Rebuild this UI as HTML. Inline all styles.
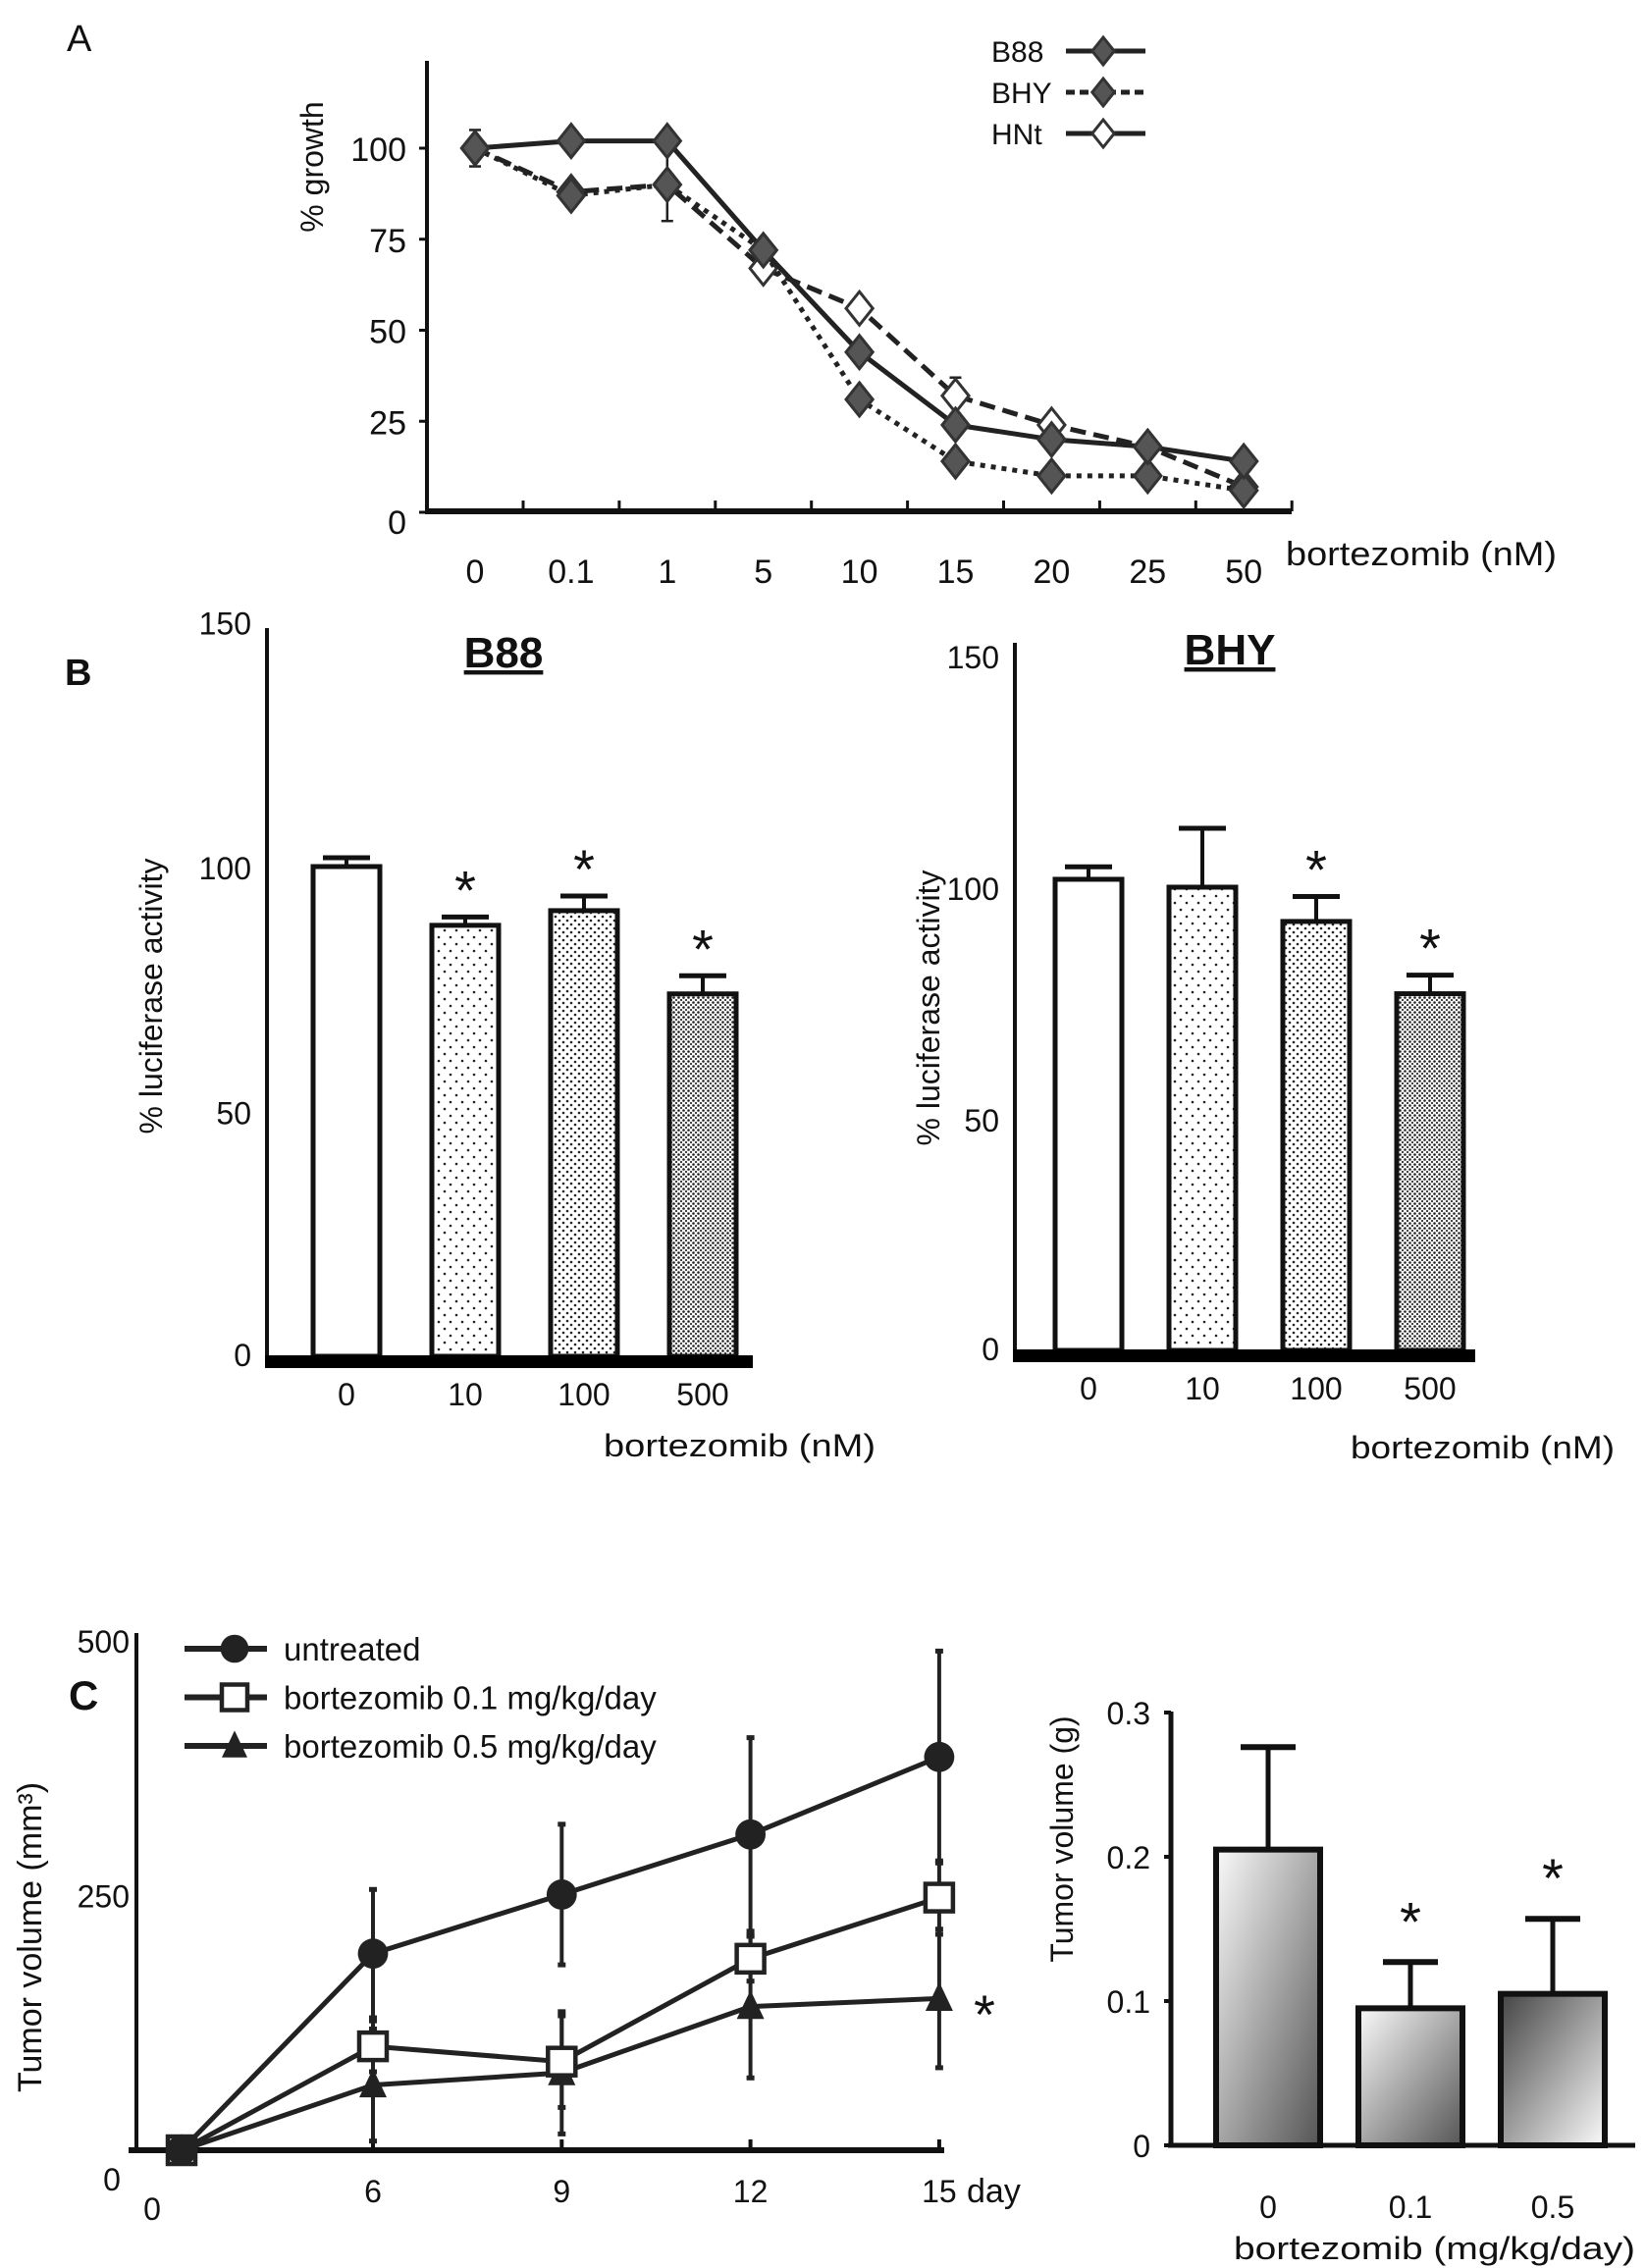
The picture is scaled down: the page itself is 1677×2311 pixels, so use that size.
<!DOCTYPE html>
<html><head><meta charset="utf-8"><style>
html,body{margin:0;padding:0;background:#fff;}
svg{display:block;}
text{font-family:"Liberation Sans",sans-serif;fill:#111;}
</style></head><body>
<svg id="fig" xmlns="http://www.w3.org/2000/svg" width="1677" height="2311" viewBox="0 0 1677 2311">
<defs>
<pattern id="dots1" width="12" height="14" patternUnits="userSpaceOnUse"><rect width="12" height="14" fill="#fff"/><circle cx="3" cy="3" r="1.3" fill="#222"/><circle cx="9" cy="10" r="1.3" fill="#222"/></pattern>
<pattern id="dots2" width="8" height="8" patternUnits="userSpaceOnUse"><rect width="8" height="8" fill="#fff"/><circle cx="2" cy="2" r="1.3" fill="#222"/><circle cx="6" cy="6" r="1.3" fill="#222"/></pattern>
<pattern id="dots3" width="5" height="5" patternUnits="userSpaceOnUse"><rect width="5" height="5" fill="#fff"/><circle cx="1.5" cy="1.5" r="1.3" fill="#222"/><circle cx="4" cy="4" r="1.1" fill="#333"/></pattern>
<linearGradient id="gLight" x1="0" y1="0" x2="1" y2="1"><stop offset="0" stop-color="#fafafa"/><stop offset="1" stop-color="#555"/></linearGradient>
<linearGradient id="gDark" x1="0" y1="0" x2="1" y2="1"><stop offset="0" stop-color="#444"/><stop offset="1" stop-color="#fafafa"/></linearGradient>
</defs>
<text x="68" y="52" font-size="38">A</text>
<text x="66" y="698" font-size="38" font-weight="bold">B</text>
<text x="70" y="1742" font-size="42" font-weight="bold">C</text>
<g id="gA"></g><g id="gB"></g><g id="gC"></g><g id="gD"></g>
</svg>
<script>
// ---------- Panel A data ----------
const aCats = ['0','0.1','1','5','10','15','20','25','50'];
const aB88 = [100,102,102,72,44,24,20,18,14];
const aBHY = [100,87,90,72,31,14,10,10,6];
const aHNt = [100,88,90,67,56,32,24,18,7];
const aB88Err = [5,0,0,0,0,0,0,0,0];
const aBHYErr = [0,3,10,0,0,0,0,0,0];
const aHNtErr = [0,0,0,0,0,5,0,0,0];
const aTicks = [0,25,50,75,100];
// ---------- Panel B data ----------
const bCats = ['0','10','100','500'];
const b88Vals = [100,88,91,74];
const b88Err = [1.8,1.7,3,3.7];
const b88Star = [0,1,1,1];
const bhyVals = [101.7,100,92.6,77];
const bhyErr = [2.7,12.7,5.4,4];
const bhyStar = [0,0,1,1];
const bTicks = [0,50,100,150];
// ---------- Panel C line data ----------
const cDays = ['0','6','9','12','15'];
const cUnt = [0,193,251,310,386];
const cUntErr = [0,63,69,95,104];
const cLow = [0,102,87,188,248];
const cLowErr = [0,25,45,22,36];
const cHigh = [0,64,76,141,149];
const cHighErr = [0,55,60,70,68];
const cTicks = [0,250,500];
// ---------- Panel C bar data ----------
const cbCats = ['0','0.1','0.5'];
const cbVals = [0.205,0.095,0.105];
const cbErr = [0.071,0.032,0.052];
const cbStar = [0,1,1];
const cbTicks = ['0','0.1','0.2','0.3'];

const NS='http://www.w3.org/2000/svg';
function mk(tag, attrs, parent){const e=document.createElementNS(NS,tag);for(const k in attrs)e.setAttribute(k,attrs[k]);parent.appendChild(e);return e;}
function txt(s, attrs, parent){const e=mk('text',attrs,parent);e.textContent=s;return e;}
function diamond(cx,cy,r){return `${cx},${cy-r} ${cx+r*0.8},${cy} ${cx},${cy+r} ${cx-r*0.8},${cy}`;}

// ===== Panel A =====
const gA=document.getElementById('gA');
const ax=i=>484+i*97.9;
const ay=v=>522-v*3.71;
let e;
e=mk('line',{x1:435,y1:62,x2:435,y2:522,stroke:'#111','stroke-width':4},gA);


e=mk('line',{x1:433,y1:521,x2:1316,y2:521,stroke:'#111','stroke-width':6},gA);


aTicks.forEach(t=>{
  mk('line',{x1:427,y1:ay(t),x2:435,y2:ay(t),stroke:'#111','stroke-width':3},gA);
  e=txt(String(t),{x:414,y:ay(t)+(t===0?22:13),'font-size':34,'text-anchor':'end'},gA);
  
  
});
aCats.forEach((c,i)=>{
  mk('line',{x1:ax(i)+49,y1:521,x2:ax(i)+49,y2:510,stroke:'#111','stroke-width':3},gA);
  e=txt(c,{x:ax(i),y:594,'font-size':34,'text-anchor':'middle'},gA);
  
  
});
e=txt('bortezomib (nM)',{x:1310,y:576,'font-size':34,textLength:276,lengthAdjust:'spacingAndGlyphs'},gA);


e=txt('% growth',{x:0,y:0,'font-size':32,'text-anchor':'middle',transform:'translate(329,170) rotate(-90)'},gA);


function seriesA(vals,errs,dash,fill,name){
  const pts=vals.map((v,i)=>`${ax(i)},${ay(v)}`).join(' ');
  const pl=mk('polyline',{points:pts,fill:'none',stroke:'#222','stroke-width':5,'stroke-dasharray':dash},gA);
  
  
  vals.forEach((v,i)=>{
    if(errs[i]>0){
      mk('line',{x1:ax(i),y1:ay(v+errs[i]),x2:ax(i),y2:ay(v-errs[i]),stroke:'#222','stroke-width':2.5},gA);
      mk('line',{x1:ax(i)-6,y1:ay(v+errs[i]),x2:ax(i)+6,y2:ay(v+errs[i]),stroke:'#222','stroke-width':2.5},gA);
      mk('line',{x1:ax(i)-6,y1:ay(v-errs[i]),x2:ax(i)+6,y2:ay(v-errs[i]),stroke:'#222','stroke-width':2.5},gA);
    }
    const m=mk('polygon',{points:diamond(ax(i),ay(v),17),fill:fill,stroke:'#333','stroke-width':3},gA);
    
    
  });
}
seriesA(aHNt,aHNtErr,'16 8','#fff','hnt');
seriesA(aBHY,aBHYErr,'5 6','#555','bhy');
seriesA(aB88,aB88Err,'none','#555','b88');
// legend A
[['B88','none','#555'],['BHY','9 5','#555'],['HNt','none','#fff']].forEach((L,k)=>{
  const y=52+k*42;
  e=txt(L[0],{x:1010,y:y+11,'font-size':30},gA);
  
  
  mk('line',{x1:1086,y1:y,x2:1167,y2:y,stroke:'#222','stroke-width':5,'stroke-dasharray':L[1]},gA);
  e=mk('polygon',{points:diamond(1124,y,14),fill:L[2],stroke:'#333','stroke-width':3},gA);
  
  
});

// ===== Panel B =====
const gB=document.getElementById('gB');
const pats=['#fff','url(#dots1)','url(#dots2)','url(#dots3)'];
function barChartB(cfg,vals,errs,stars){
  const by=v=>cfg.y0-v*cfg.k;
  const bx=i=>cfg.c0+i*cfg.dx;
  e=mk('line',{x1:cfg.ax,y1:cfg.top,x2:cfg.ax,y2:cfg.y0,stroke:'#111','stroke-width':4},gB);
  
  
  bTicks.forEach(t=>{
    e=txt(String(t),{x:cfg.ax-16,y:by(t)+(t===0?10:13),'font-size':32,'text-anchor':'end'},gB);
    
    
  });
  vals.forEach((v,i)=>{
    const x=bx(i),w=68;
    const ey=by(v+errs[i]);
    mk('line',{x1:x,y1:by(v),x2:x,y2:ey,stroke:'#111','stroke-width':4},gB);
    mk('line',{x1:x-24,y1:ey,x2:x+24,y2:ey,stroke:'#111','stroke-width':5},gB);
    const r=mk('rect',{x:x-w/2,y:by(v),width:w,height:cfg.y0-by(v),fill:pats[i],stroke:'#111','stroke-width':5},gB);
    
    
    if(stars[i]){
      const s=txt('*',{x:x,y:ey-8,'font-size':56,'text-anchor':'middle'},gB);
      
      
    }
    e=txt(bCats[i],{x:x,y:cfg.y0+50,'font-size':32,'text-anchor':'middle'},gB);
    
    
  });
  e=mk('rect',{x:cfg.ax-2,y:cfg.y0-1,width:cfg.axEnd-cfg.ax,height:13,fill:'#000'},gB);
  
  
  e=txt('bortezomib (nM)',{x:cfg.xtX,y:cfg.xtY,'font-size':32,textLength:cfg.xtW,lengthAdjust:'spacingAndGlyphs'},gB);
  
  
  e=txt(cfg.title,{x:cfg.tx,y:cfg.ty,'font-size':44,'font-weight':'bold','text-anchor':'middle','text-decoration':'underline'},gB);
  
  
  e=txt('% luciferase activity',{x:0,y:0,'font-size':32,'text-anchor':'middle',transform:`translate(${cfg.ytX},${cfg.ytY}) rotate(-90)`},gB);
  
  
}
barChartB({name:'b88',ax:272,top:640,y0:1382,k:4.99,c0:353,dx:121,axEnd:769,xtX:615,xtY:1484,xtW:277,title:'B88',tx:513,ty:680,ytX:165,ytY:1015},b88Vals,b88Err,b88Star);
barChartB({name:'bhy',ax:1034,top:655,y0:1376,k:4.72,c0:1109,dx:116,axEnd:1505,xtX:1376,xtY:1486,xtW:269,title:'BHY',tx:1253,ty:677,ytX:957,ytY:1027},bhyVals,bhyErr,bhyStar);

// ===== Panel C line =====
const gC=document.getElementById('gC');
const cx=i=>i===0?185:380+(i-1)*192.3;
const cy=v=>2191-v*1.038;
e=mk('line',{x1:139,y1:1664,x2:139,y2:2193,stroke:'#111','stroke-width':4},gC);


e=mk('line',{x1:131,y1:2191,x2:962,y2:2191,stroke:'#111','stroke-width':6},gC);


cTicks.forEach(t=>{
  if(t===0){
    e=txt('0',{x:114,y:2232,'font-size':32,'text-anchor':'middle'},gC);
  } else {
    e=txt(String(t),{x:132,y:cy(t)+12,'font-size':32,'text-anchor':'end'},gC);
  }
  
  
});
cDays.forEach((d,i)=>{
  if(i>0) mk('line',{x1:cx(i),y1:2191,x2:cx(i),y2:2180,stroke:'#111','stroke-width':4},gC);
  e=txt(d,{x:i===0?155:cx(i),y:i===0?2262:2244,'font-size':32,'text-anchor':'middle'},gC);
  
  
});
e=txt('day',{x:985,y:2244,'font-size':34},gC);


e=txt('Tumor volume (mm³)',{x:0,y:0,'font-size':34,'text-anchor':'middle',transform:'translate(42,1974) rotate(-90)'},gC);


function marker(type,x,y,parent,s){
  if(type==='circle') return mk('circle',{cx:x,cy:y,r:s*0.55,fill:'#222'},parent);
  if(type==='square') return mk('rect',{x:x-s/2,y:y-s/2,width:s,height:s,fill:'#fff',stroke:'#222','stroke-width':4.5},parent);
  return mk('polygon',{points:`${x},${y-s*0.6} ${x+s*0.5},${y+s*0.45} ${x-s*0.5},${y+s*0.45}`,fill:'#222'},parent);
}
function seriesC(vals,errs,type,name){
  vals.forEach((v,i)=>{
    if(errs[i]>0){
      mk('line',{x1:cx(i),y1:cy(v+errs[i]),x2:cx(i),y2:cy(Math.max(0,v-errs[i])),stroke:'#222','stroke-width':4},gC);
      mk('line',{x1:cx(i)-4,y1:cy(v+errs[i]),x2:cx(i)+4,y2:cy(v+errs[i]),stroke:'#222','stroke-width':5},gC);
      mk('line',{x1:cx(i)-4,y1:cy(Math.max(0,v-errs[i])),x2:cx(i)+4,y2:cy(Math.max(0,v-errs[i])),stroke:'#222','stroke-width':5},gC);
    }
  });
  const pl=mk('polyline',{points:vals.map((v,i)=>`${cx(i)},${cy(v)}`).join(' '),fill:'none',stroke:'#222','stroke-width':5},gC);
  
  
  vals.forEach((v,i)=>{
    const m=marker(type,cx(i),cy(v),gC,28);
    
    
  });
}
seriesC(cHigh,cHighErr,'triangle','c-0.5-mgkg');
seriesC(cLow,cLowErr,'square','c-0.1-mgkg');
seriesC(cUnt,cUntErr,'circle','c-untreated');
e=txt('*',{x:1003,y:2072,'font-size':56,'text-anchor':'middle'},gC);


[['untreated','circle'],['bortezomib 0.1 mg/kg/day','square'],['bortezomib 0.5 mg/kg/day','triangle']].forEach((L,k)=>{
  const y=1680+k*49.5;
  mk('line',{x1:188,y1:y,x2:272,y2:y,stroke:'#222','stroke-width':6},gC);
  e=marker(L[1],239,y,gC,26);
  
  
  e=txt(L[0],{x:289,y:y+12,'font-size':33},gC);
  
  
});

// ===== Panel C bar =====
const gD=document.getElementById('gD');
const dx=i=>1292+i*145;
const dy=v=>2186-v*1470;
e=mk('line',{x1:1193,y1:1744,x2:1193,y2:2188,stroke:'#111','stroke-width':5},gD);


cbTicks.forEach(t=>{
  const v=parseFloat(t);
  mk('line',{x1:1186,y1:dy(v),x2:1193,y2:dy(v),stroke:'#111','stroke-width':4},gD);
  e=txt(t,{x:1172,y:dy(v)+12,'font-size':32,'text-anchor':'end'},gD);
  
  
});
const grads=['url(#gLight)','url(#gLight)','url(#gDark)'];
cbVals.forEach((v,i)=>{
  const x=dx(i),w=106,ey=dy(v+cbErr[i]);
  mk('line',{x1:x,y1:dy(v),x2:x,y2:ey,stroke:'#111','stroke-width':5},gD);
  mk('line',{x1:x-28,y1:ey,x2:x+28,y2:ey,stroke:'#111','stroke-width':6},gD);
  const r=mk('rect',{x:x-w/2,y:dy(v),width:w,height:2186-dy(v),fill:grads[i],stroke:'#111','stroke-width':6},gD);
  
  
  if(cbStar[i]){
    const s=txt('*',{x:x,y:ey-22,'font-size':56,'text-anchor':'middle'},gD);
    
    
  }
  e=txt(cbCats[i],{x:x,y:2260,'font-size':32,'text-anchor':'middle'},gD);
  
  
});
e=mk('line',{x1:1190,y1:2186,x2:1666,y2:2186,stroke:'#111','stroke-width':5},gD);


e=txt('bortezomib (mg/kg/day)',{x:1257,y:2302,'font-size':32,textLength:409,lengthAdjust:'spacingAndGlyphs'},gD);


e=txt('Tumor volume (g)',{x:0,y:0,'font-size':32,'text-anchor':'middle',transform:'translate(1093,1874) rotate(-90)'},gD);


</script>
</body></html>
